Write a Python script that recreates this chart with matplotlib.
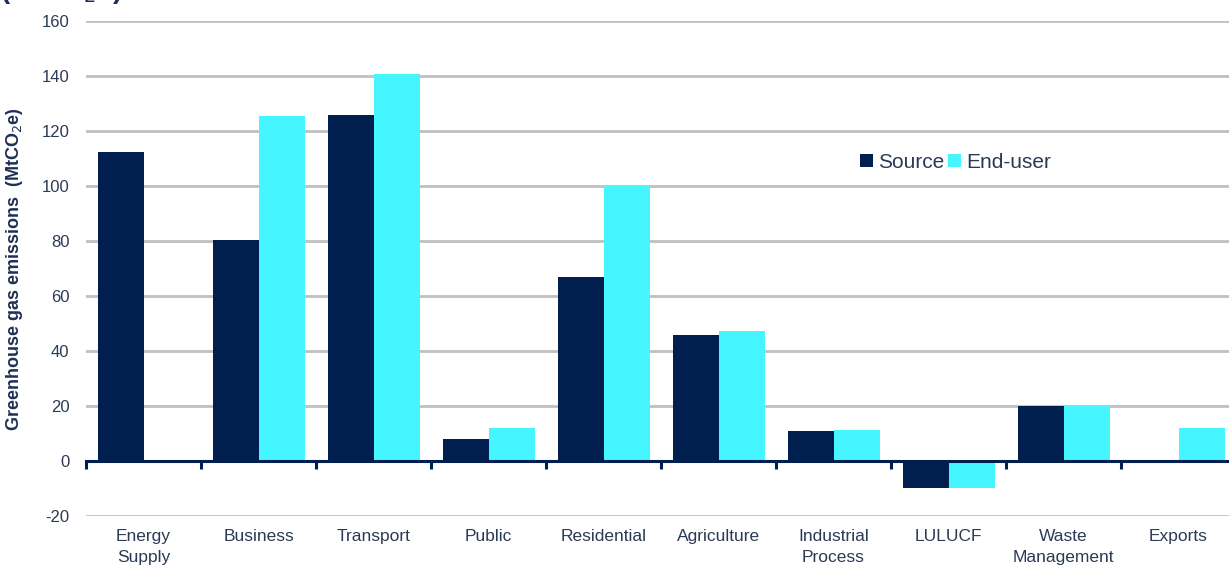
import matplotlib.pyplot as plt
import numpy as np
from matplotlib.transforms import blended_transform_factory

plt.rcParams['font.family'] = ['Liberation Sans', 'DejaVu Sans']
plt.rcParams['axes.unicode_minus'] = False

# Emissions by sector (MtCO2e)
categories = ["Energy\nSupply", "Business", "Transport", "Public", "Residential",
              "Agriculture", "Industrial\nProcess", "LULUCF", "Waste\nManagement", "Exports"]
source = [112.4, 80.3, 125.8, 8.0, 66.9, 45.8, 10.9, -9.8, 20.0, 0.0]
end_user = [0.0, 125.5, 140.7, 12.0, 100.0, 47.3, 11.3, -9.8, 20.0, 12.0]
yticks = [-20, 0, 20, 40, 60, 80, 100, 120, 140, 160]

navy = "#001F4E"
cyan = "#45F5FF"
text_col = "#2B3A55"

fig = plt.figure(figsize=(12.29, 5.70), dpi=100)
ax = fig.add_axes([0.07, 0.0947, 0.9357, 0.868])

x = np.arange(len(categories))
w = 0.4
ax.bar(x - w / 2, source, w, color=navy, label="Source", zorder=3)
ax.bar(x + w / 2, end_user, w, color=cyan, label="End-user", zorder=3)

ax.set_xlim(-0.5, len(categories) - 0.5)
ax.set_ylim(-20, 160)
ax.set_yticks(yticks)
ax.tick_params(axis='y', length=0, pad=12, labelsize=12, labelcolor=text_col)
ax.yaxis.grid(True, color="#C0C0C0", linewidth=2)
ax.set_axisbelow(True)

for side in ['left', 'right', 'top']:
    ax.spines[side].set_visible(False)
ax.spines['bottom'].set_position(('data', 0))
ax.spines['bottom'].set_color(navy)
ax.spines['bottom'].set_linewidth(2.2)
ax.spines['bottom'].set_zorder(4)

# category boundary ticks on the zero line
ax.set_xticks(np.arange(len(categories) + 1) - 0.5)
ax.set_xticklabels([])
ax.tick_params(axis='x', direction='out', length=6, width=2.2, color=navy)

trans = blended_transform_factory(ax.transData, ax.transAxes)
for xi, name in zip(x, categories):
    ax.text(xi, -0.026, name, transform=trans, ha='center', va='top',
            fontsize=12.5, color=text_col, linespacing=1.55)

ax.set_ylabel("Greenhouse gas emissions  (MtCO$_2$e)", fontsize=13,
              fontweight='bold', color="#1F3056", labelpad=12)

ax.legend(loc='center left', bbox_to_anchor=(0.666, 0.715), ncol=2, frameon=False,
          fontsize=15, handlelength=0.6, handleheight=0.6, handletextpad=0.25,
          columnspacing=0.2, labelcolor=text_col, borderaxespad=0)

fig.text(0.0, 1.016, "(MtCO$_2$e)", fontsize=20, fontweight='bold',
         color="#1F3056", va='center', ha='left')

fig.savefig("out.png", dpi=100)
